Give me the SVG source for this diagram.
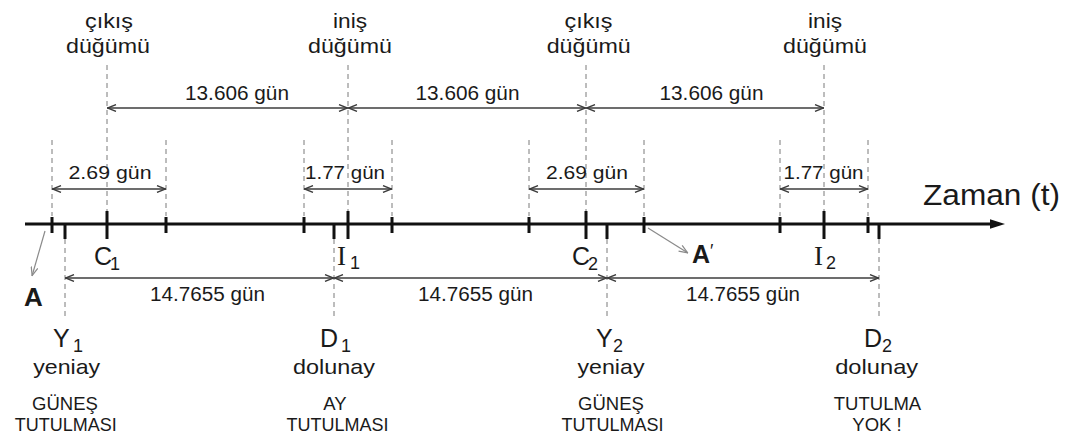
<svg xmlns="http://www.w3.org/2000/svg" width="1072" height="441" viewBox="0 0 1072 441">
<style>
  text { font-family: "Liberation Sans", Arial, sans-serif; fill: #1a1a1a; }
  .node { font-size: 21px; text-anchor: middle; }
  .dur { font-size: 19.5px; text-anchor: middle; }
  .dur2 { font-size: 18.5px; text-anchor: middle; }
  .sym { font-size: 25px; }
  .symI { font-family: "Liberation Serif", "Times New Roman", serif; font-size: 27px; }
  .sub { font-size: 18px; }
  .phase { font-size: 21px; text-anchor: middle; }
  .ecl { font-size: 18.5px; text-anchor: middle; }
  .axis { stroke: #111; stroke-width: 3; fill: none; }
  .tick { stroke: #111; stroke-width: 3; }
  .guide { stroke: #7a7a7a; stroke-width: 1; stroke-dasharray: 5 4; fill: none; }
  .meas { stroke: #3c3c3c; stroke-width: 1.4; fill: none; marker-start: url(#open); marker-end: url(#open); }
  .ptr { stroke: #8a8a8a; stroke-width: 1.2; fill: none; marker-end: url(#openg); }
</style>
<defs>
  <marker id="open" viewBox="0 0 10 8" refX="10" refY="4" markerWidth="10" markerHeight="8" markerUnits="userSpaceOnUse" orient="auto-start-reverse">
    <path d="M1,0.6 L9.6,4 L1,7.4" fill="none" stroke="#3c3c3c" stroke-width="1.4"/>
  </marker>
  <marker id="openg" viewBox="0 0 10 8" refX="10" refY="4" markerWidth="10" markerHeight="8" markerUnits="userSpaceOnUse" orient="auto">
    <path d="M1,0.6 L9.6,4 L1,7.4" fill="none" stroke="#8a8a8a" stroke-width="1.2"/>
  </marker>
</defs>

<g id="guides">
  <path class="guide" d="M107,65V211 M348,65V211 M586,65V211 M824,65V211"/>
  <path class="guide" d="M52,140V216 M166,140V216 M304,140V216 M392,140V216 M529,140V216 M644,140V216 M780,140V216 M868,140V216"/>
  <path class="guide" d="M65,239V318 M334,239V318 M607,239V318 M879,239V320"/>
</g>

<g id="time-axis">
  <line class="axis" x1="25" y1="224" x2="992" y2="224"/>
  <polygon points="990,219.3 1005,224 990,228.7" fill="#111"/>
  <text x="923" y="205" font-size="30" textLength="137" lengthAdjust="spacingAndGlyphs">Zaman (t)</text>
</g>

<g id="ticks">
  <path class="tick" d="M52,217V233 M166,217V233 M304,217V233 M392,217V233 M529,217V233 M644,217V233 M780,217V233 M868,217V233"/>
  <path class="tick" d="M107,211V239 M348,211V239 M586,211V239 M824,211V239"/>
  <path class="tick" d="M65,224V239 M334,224V239 M607,224V239 M879,224V239"/>
</g>

<g id="connectors">
  <line class="meas" x1="107" y1="108" x2="348" y2="108"/>
  <line class="meas" x1="348" y1="108" x2="586" y2="108"/>
  <line class="meas" x1="586" y1="108" x2="824" y2="108"/>
  <line class="meas" x1="52" y1="189" x2="166" y2="189"/>
  <line class="meas" x1="304" y1="189" x2="392" y2="189"/>
  <line class="meas" x1="529" y1="189" x2="644" y2="189"/>
  <line class="meas" x1="780" y1="189" x2="868" y2="189"/>
  <line class="meas" x1="65" y1="278" x2="334" y2="278"/>
  <line class="meas" x1="334" y1="278" x2="607" y2="278"/>
  <line class="meas" x1="607" y1="278" x2="879" y2="278"/>
  <line class="ptr" x1="45" y1="231" x2="32" y2="276"/>
  <line class="ptr" x1="648" y1="228" x2="688" y2="253"/>
</g>

<g id="durations">
  <text class="dur" x="237" y="100" textLength="104" lengthAdjust="spacingAndGlyphs">13.606 gün</text>
  <text class="dur" x="467.5" y="100" textLength="104" lengthAdjust="spacingAndGlyphs">13.606 gün</text>
  <text class="dur" x="711.5" y="100" textLength="104" lengthAdjust="spacingAndGlyphs">13.606 gün</text>
  <text class="dur2" x="110" y="179" textLength="83" lengthAdjust="spacingAndGlyphs">2.69 gün</text>
  <text class="dur2" x="345" y="179" textLength="80" lengthAdjust="spacingAndGlyphs">1.77 gün</text>
  <text class="dur2" x="587" y="179" textLength="82" lengthAdjust="spacingAndGlyphs">2.69 gün</text>
  <text class="dur2" x="823.5" y="179" textLength="80" lengthAdjust="spacingAndGlyphs">1.77 gün</text>
  <text class="dur" x="207.5" y="301" textLength="115" lengthAdjust="spacingAndGlyphs">14.7655 gün</text>
  <text class="dur" x="475.5" y="301" textLength="115" lengthAdjust="spacingAndGlyphs">14.7655 gün</text>
  <text class="dur" x="743" y="301" textLength="114" lengthAdjust="spacingAndGlyphs">14.7655 gün</text>
</g>

<g id="node-C1">
  <text class="node" x="109" y="28" textLength="48" lengthAdjust="spacingAndGlyphs">çıkış</text>
  <text class="node" x="108" y="53" textLength="84" lengthAdjust="spacingAndGlyphs">düğümü</text>
  <text class="sym" x="94" y="265">C</text>
  <text class="sub" x="110" y="270">1</text>
</g>
<g id="node-I1">
  <text class="node" x="350" y="28" textLength="34" lengthAdjust="spacingAndGlyphs">iniş</text>
  <text class="node" x="350" y="53" textLength="84" lengthAdjust="spacingAndGlyphs">düğümü</text>
  <text class="symI" x="337" y="265">I</text>
  <text class="sub" x="350" y="269">1</text>
</g>
<g id="node-C2">
  <text class="node" x="588.5" y="28" textLength="48" lengthAdjust="spacingAndGlyphs">çıkış</text>
  <text class="node" x="588.7" y="53" textLength="84" lengthAdjust="spacingAndGlyphs">düğümü</text>
  <text class="sym" x="572" y="265">C</text>
  <text class="sub" x="588" y="270">2</text>
</g>
<g id="node-I2">
  <text class="node" x="825" y="28" textLength="34" lengthAdjust="spacingAndGlyphs">iniş</text>
  <text class="node" x="825" y="53" textLength="84" lengthAdjust="spacingAndGlyphs">düğümü</text>
  <text class="symI" x="814" y="265">I</text>
  <text class="sub" x="826" y="269">2</text>
</g>

<g id="node-A">
  <text x="24" y="306" font-size="26" font-weight="bold">A</text>
</g>
<g id="node-A-prime">
  <text x="692" y="263" font-size="25" font-weight="bold">A</text>
  <text x="710" y="257" font-size="18">′</text>
</g>

<g id="node-Y1">
  <text class="sym" x="53" y="347">Y</text>
  <text class="sub" x="73" y="352">1</text>
  <text class="phase" x="66.7" y="374" textLength="67" lengthAdjust="spacingAndGlyphs">yeniay</text>
  <text class="ecl" x="65" y="410">GÜNEŞ</text>
  <text class="ecl" x="65.8" y="431" textLength="102" lengthAdjust="spacingAndGlyphs">TUTULMASI</text>
</g>
<g id="node-D1">
  <text class="sym" x="320" y="347">D</text>
  <text class="sub" x="341" y="352">1</text>
  <text class="phase" x="334" y="374" textLength="82" lengthAdjust="spacingAndGlyphs">dolunay</text>
  <text class="ecl" x="335" y="410">AY</text>
  <text class="ecl" x="337.5" y="431" textLength="102" lengthAdjust="spacingAndGlyphs">TUTULMASI</text>
</g>
<g id="node-Y2">
  <text class="sym" x="596" y="347">Y</text>
  <text class="sub" x="613" y="352">2</text>
  <text class="phase" x="611" y="374" textLength="67" lengthAdjust="spacingAndGlyphs">yeniay</text>
  <text class="ecl" x="611" y="410">GÜNEŞ</text>
  <text class="ecl" x="612.5" y="431" textLength="102" lengthAdjust="spacingAndGlyphs">TUTULMASI</text>
</g>
<g id="node-D2">
  <text class="sym" x="864" y="347">D</text>
  <text class="sub" x="882" y="352">2</text>
  <text class="phase" x="876.7" y="374" textLength="83" lengthAdjust="spacingAndGlyphs">dolunay</text>
  <text class="ecl" x="877.5" y="410">TUTULMA</text>
  <text class="ecl" x="877" y="431">YOK !</text>
</g>
</svg>
